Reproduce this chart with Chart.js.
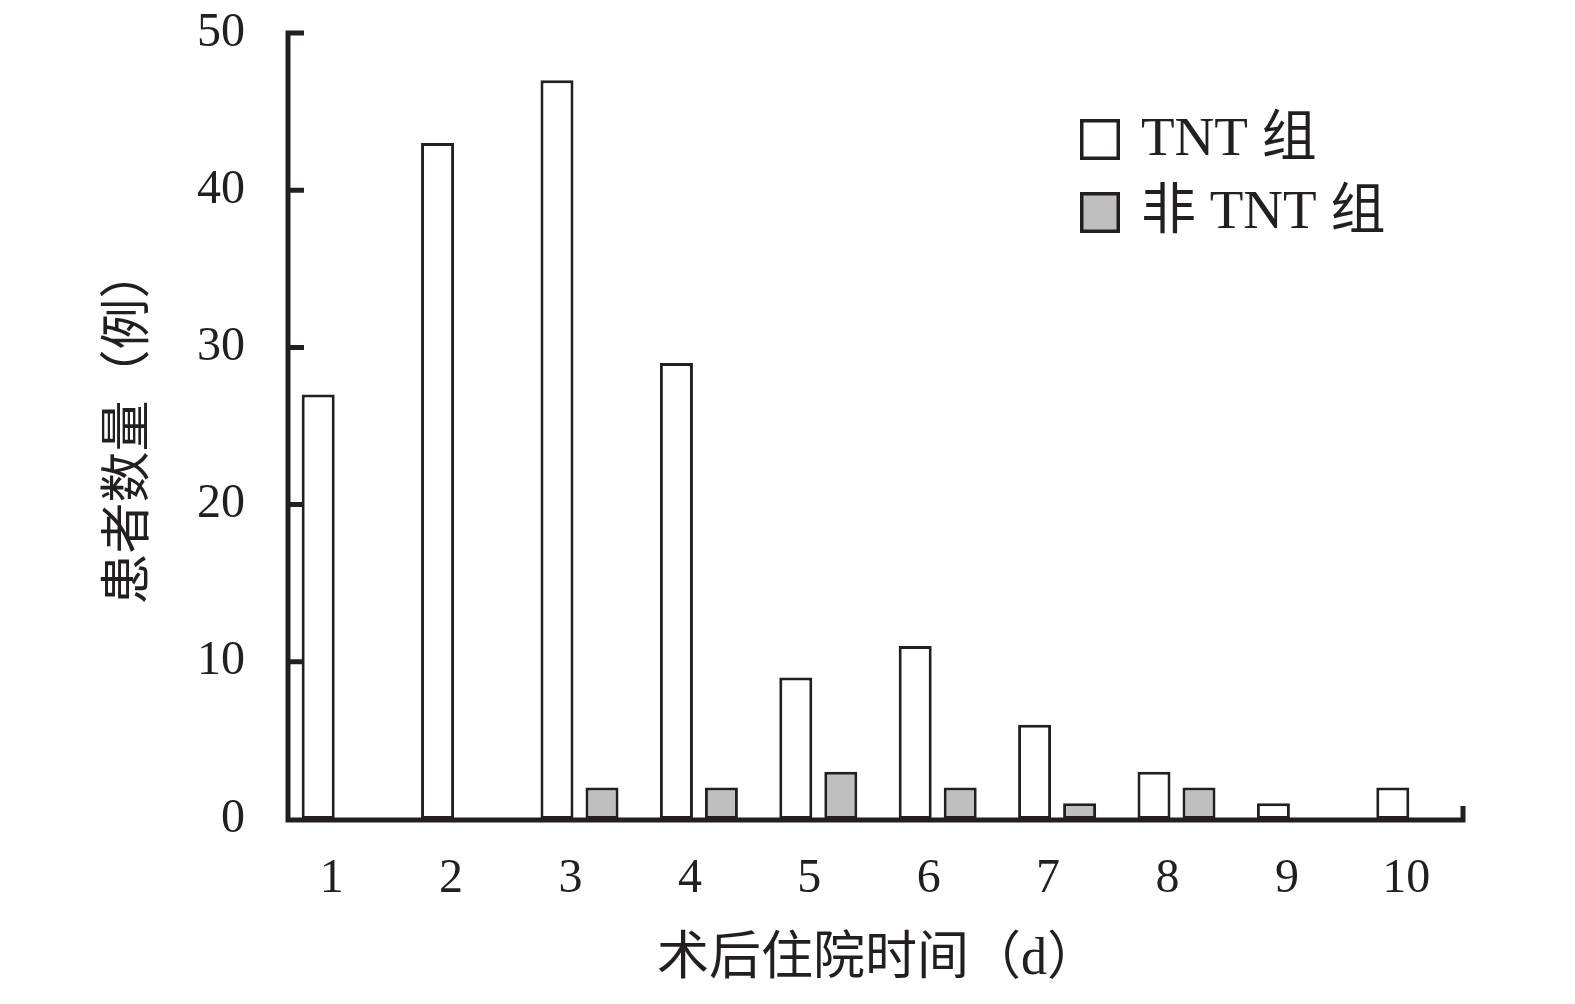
<!DOCTYPE html>
<html>
<head>
<meta charset="utf-8">
<script src="https://cdn.jsdelivr.net/npm/chart.js@4.4.0/dist/chart.umd.min.js"></script>
<style>
  html, body { margin: 0; padding: 0; background: #fff; }
  canvas { display: block; }
</style>
</head>
<body>
<canvas id="stayChart" width="1575" height="1004"></canvas>
<script>
// данные
const days = ['1', '2', '3', '4', '5', '6', '7', '8', '9', '10'];
const tntCounts = [27, 43, 47, 29, 9, 11, 6, 3, 1, 2];
const nonTntCounts = [0, 0, 2, 2, 3, 2, 1, 2, 0, 0];
const yTicks = [0, 10, 20, 30, 40, 50];

const ink = '#231f20';
const serif = "'Liberation Serif', 'Noto Sans CJK SC', serif";

// оси рисуем сами: толстая линия, короткие внутренние засечки
const axisLines = {
  id: 'axisLines',
  afterDatasetsDraw(chart) {
    const { ctx, chartArea, scales } = chart;
    const x0 = chartArea.left + 7;
    const x1 = chartArea.right - 12;
    const yBase = scales.y.getPixelForValue(0) + 1;
    const yTop = scales.y.getPixelForValue(50);
    ctx.save();
    ctx.strokeStyle = ink;
    ctx.lineWidth = 5;
    ctx.beginPath();
    ctx.moveTo(x0, yTop - 2.5);
    ctx.lineTo(x0, yBase + 2.5);
    ctx.moveTo(x0 - 2.5, yBase);
    ctx.lineTo(x1 + 2.5, yBase);
    ctx.moveTo(x1, yBase);
    ctx.lineTo(x1, yBase - 14);
    yTicks.forEach(v => {
      if (v === 0) return;
      const y = scales.y.getPixelForValue(v);
      ctx.moveTo(x0, y);
      ctx.lineTo(x0 + 16, y);
    });
    ctx.stroke();
    ctx.restore();
  }
};

// легенда в правом верхнем углу
const boxLegend = {
  id: 'boxLegend',
  afterDraw(chart) {
    const { ctx } = chart;
    ctx.save();
    chart.data.datasets.forEach((ds, i) => {
      const bx = 1080, by = 119 + i * 73;
      ctx.fillStyle = ds.backgroundColor;
      ctx.fillRect(bx, by, 40, 41);
      ctx.strokeStyle = ink;
      ctx.lineWidth = 3.5;
      ctx.strokeRect(bx + 1.75, by + 1.75, 40 - 3.5, 41 - 3.5);
      ctx.font = `55px ${serif}`;
      ctx.textBaseline = 'middle';
      ctx.fillStyle = ink;
      ctx.fillText(ds.label, 1141, by + 22);
    });
    ctx.restore();
  }
};

new Chart(document.getElementById('stayChart'), {
  type: 'bar',
  data: {
    labels: days,
    datasets: [{
      label: 'TNT 组',
      data: tntCounts,
      backgroundColor: '#ffffff',
      borderColor: ink,
      borderWidth: 3,
      borderSkipped: false
    }, {
      label: '非 TNT 组',
      data: nonTntCounts,
      backgroundColor: '#bfbfbf',
      borderColor: ink,
      borderWidth: 3,
      borderSkipped: false
    }]
  },
  options: {
    responsive: false,
    animation: false,
    devicePixelRatio: 1,
    categoryPercentage: 0.754,
    barPercentage: 0.733,
    layout: { padding: { top: 33, right: 100, left: 0, bottom: 0 } },
    plugins: {
      legend: { display: false },
      tooltip: { enabled: false }
    },
    scales: {
      x: {
        grid: { display: false, drawTicks: false },
        border: { display: false },
        ticks: {
          color: ink,
          font: { family: serif, size: 48 },
          padding: 32,
          labelOffset: -9,
          maxRotation: 0,
          autoSkip: false
        },
        title: {
          display: true,
          text: '术后住院时间（d）',
          color: ink,
          font: { family: serif, size: 52 },
          padding: { top: 0, bottom: 12 }
        },
        afterFit(scale) { scale.height = 185; }
      },
      y: {
        min: 0,
        max: 50,
        grid: { display: false, drawTicks: false },
        border: { display: false },
        afterBuildTicks(scale) { scale.ticks = yTicks.map(v => ({ value: v })); },
        ticks: {
          color: ink,
          font: { family: serif, size: 48 },
          padding: 36
        },
        title: {
          display: true,
          text: '患者数量（例）',
          color: ink,
          font: { family: serif, size: 51 },
          padding: { top: 100, bottom: 0 }
        },
        afterFit(scale) {
          scale.width = 281;
          scale.paddingTop = 0;
          scale.paddingBottom = 0;
        }
      }
    }
  },
  plugins: [axisLines, boxLegend]
});
</script>
</body>
</html>
